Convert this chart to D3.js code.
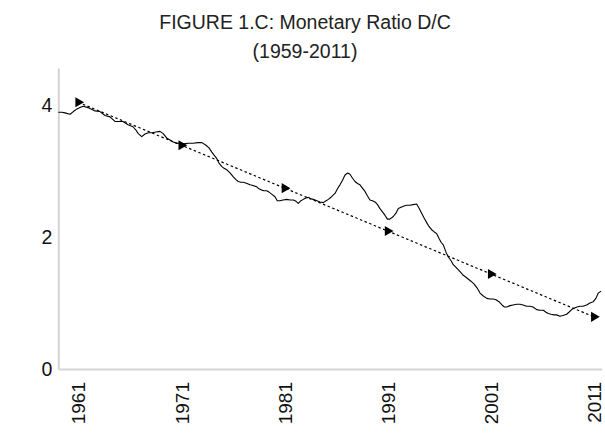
<!DOCTYPE html>
<html>
<head>
<meta charset="utf-8">
<script src="https://cdn.jsdelivr.net/npm/d3@7"></script>
<style>
  html, body { margin: 0; padding: 0; background: #fff; }
  svg { display: block; font-family: "Liberation Sans", Arial, sans-serif; }
</style>
</head>
<body>
<svg id="chart" width="605" height="433"></svg>
<script>
const titleLines = ["FIGURE 1.C: Monetary Ratio D/C", "(1959-2011)"];
const xTickYears = [1961, 1971, 1981, 1991, 2001, 2011];
const yTicks = [0, 2, 4];

const seriesYears = [1959.06,1959.42,1959.71,1960.2,1960.52,1960.87,1961.16,1961.48,1961.94,1962.62,1963.1,1963.59,1964.07,1964.56,1965.33,1965.82,1966.3,1966.59,1966.79,1967.15,1967.47,1967.79,1968.15,1968.53,1968.92,1969.21,1969.57,1969.89,1970.21,1970.54,1970.86,1971.25,1971.64,1972.12,1972.61,1972.99,1973.38,1973.67,1973.93,1974.16,1974.42,1974.64,1974.9,1975.13,1975.39,1975.71,1976.03,1976.29,1976.51,1976.77,1977.0,1977.36,1977.65,1977.94,1978.3,1978.52,1978.78,1979.0,1979.27,1979.49,1979.75,1980.07,1980.29,1980.56,1980.85,1981.21,1981.53,1981.85,1982.11,1982.33,1982.59,1982.82,1983.08,1983.3,1983.56,1983.78,1984.14,1984.43,1984.75,1985.02,1985.25,1985.56,1985.89,1986.13,1986.37,1986.62,1986.86,1987.12,1987.34,1987.59,1987.83,1988.07,1988.31,1988.55,1988.8,1989.04,1989.28,1989.52,1989.77,1990.01,1990.25,1990.49,1990.73,1990.97,1991.21,1991.54,1991.8,1992.03,1992.29,1992.58,1992.84,1993.16,1993.45,1993.81,1994.03,1994.29,1994.52,1994.81,1995.0,1995.26,1995.49,1995.75,1995.97,1996.17,1996.39,1996.65,1996.87,1997.14,1997.36,1997.62,1997.86,1998.1,1998.33,1998.59,1998.83,1999.07,1999.36,1999.66,1999.95,2000.24,2000.6,2000.92,2001.24,2001.5,2001.79,2002.08,2002.32,2002.54,2002.86,2003.15,2003.5,2003.83,2004.12,2004.47,2004.8,2005.09,2005.45,2005.77,2006.09,2006.35,2006.57,2006.83,2007.12,2007.38,2007.7,2007.99,2008.35,2008.57,2008.84,2009.06,2009.35,2009.64,2009.93,2010.29,2010.61,2010.93,2011.19,2011.42,2011.68];
const seriesValues = [3.89,3.89,3.88,3.86,3.90,3.94,3.96,3.98,3.96,3.91,3.90,3.84,3.82,3.75,3.75,3.70,3.67,3.62,3.57,3.52,3.56,3.58,3.58,3.59,3.60,3.57,3.50,3.47,3.44,3.42,3.42,3.41,3.42,3.42,3.43,3.43,3.39,3.35,3.29,3.24,3.19,3.12,3.07,3.04,3.02,2.97,2.91,2.87,2.84,2.83,2.83,2.81,2.79,2.78,2.76,2.73,2.71,2.70,2.70,2.68,2.65,2.61,2.55,2.55,2.56,2.57,2.56,2.56,2.54,2.51,2.55,2.57,2.59,2.60,2.58,2.57,2.55,2.53,2.52,2.55,2.57,2.61,2.66,2.73,2.79,2.86,2.94,2.97,2.95,2.89,2.84,2.81,2.79,2.74,2.69,2.62,2.56,2.55,2.53,2.49,2.43,2.38,2.33,2.27,2.27,2.31,2.36,2.43,2.45,2.47,2.48,2.48,2.49,2.50,2.44,2.36,2.29,2.21,2.16,2.11,2.08,2.05,1.98,1.92,1.88,1.77,1.70,1.64,1.58,1.54,1.50,1.46,1.42,1.39,1.36,1.33,1.29,1.23,1.15,1.11,1.07,1.06,1.06,1.05,1.02,0.97,0.94,0.94,0.96,0.97,0.98,0.98,0.97,0.95,0.95,0.94,0.90,0.89,0.89,0.86,0.84,0.83,0.82,0.82,0.80,0.81,0.83,0.86,0.90,0.92,0.94,0.95,0.95,0.97,1.00,1.02,1.07,1.15,1.18];

const trendYears = [1961, 1971, 1981, 1991, 2001, 2011];
const trendValues = [4.04, 3.39, 2.74, 2.09, 1.44, 0.79];

const svg = d3.select("#chart");

const x = d3.scaleLinear().domain([1959.06, 2011.75]).range([58.3, 601.7]);
const y = d3.scaleLinear().domain([0, 4.56]).range([369, 68]);

// Title
svg.append("text").attr("x", 305).attr("y", 28.5).attr("text-anchor", "middle")
  .attr("font-size", 19.5).attr("fill", "#222").text(titleLines[0]);
svg.append("text").attr("x", 305).attr("y", 58).attr("text-anchor", "middle")
  .attr("font-size", 19.5).attr("fill", "#222").text(titleLines[1]);

// Axes
const xAxis = svg.append("g").attr("transform", `translate(0,${y(0)})`)
  .call(d3.axisBottom(x).tickValues(xTickYears).tickFormat(d3.format("d")).tickSize(0));
xAxis.select(".domain").attr("stroke", "#d4d4d4").attr("stroke-width", 2);
xAxis.selectAll("text")
  .attr("transform", "rotate(-90)")
  .attr("x", -13).attr("y", 0).attr("dy", "0.35em")
  .attr("text-anchor", "end")
  .attr("font-size", 19).attr("font-family", "Liberation Sans, Arial, sans-serif")
  .attr("fill", "#111");

const yAxis = svg.append("g").attr("transform", `translate(${x.range()[0]},0)`)
  .call(d3.axisLeft(y).tickValues(yTicks).tickFormat(d3.format("d")).tickSize(0).tickPadding(6));
yAxis.select(".domain").attr("stroke", "#d4d4d4").attr("stroke-width", 2);
yAxis.selectAll("text")
  .attr("font-size", 19.5).attr("font-family", "Liberation Sans, Arial, sans-serif")
  .attr("fill", "#111");

// Main series
const seriesData = seriesYears.map((yr, i) => ({ yr, v: seriesValues[i] }));
svg.append("path").datum(seriesData)
  .attr("fill", "none").attr("stroke", "#000").attr("stroke-width", 1.1)
  .attr("stroke-linejoin", "round")
  .attr("d", d3.line().x(d => x(d.yr)).y(d => y(d.v)));

// Trend
const trendData = trendYears.map((yr, i) => ({ yr, v: trendValues[i] }));
svg.append("path").datum(trendData)
  .attr("fill", "none").attr("stroke", "#000").attr("stroke-width", 1.2)
  .attr("stroke-dasharray", "2.5,2.5")
  .attr("d", d3.line().x(d => x(d.yr)).y(d => y(d.v)));

svg.selectAll(".marker").data(trendData).enter().append("path")
  .attr("class", "marker")
  .attr("d", d3.symbol().type(d3.symbolTriangle).size(44))
  .attr("transform", d => `translate(${x(d.yr)},${y(d.v)}) rotate(90)`)
  .attr("fill", "#000");
</script>
</body>
</html>
